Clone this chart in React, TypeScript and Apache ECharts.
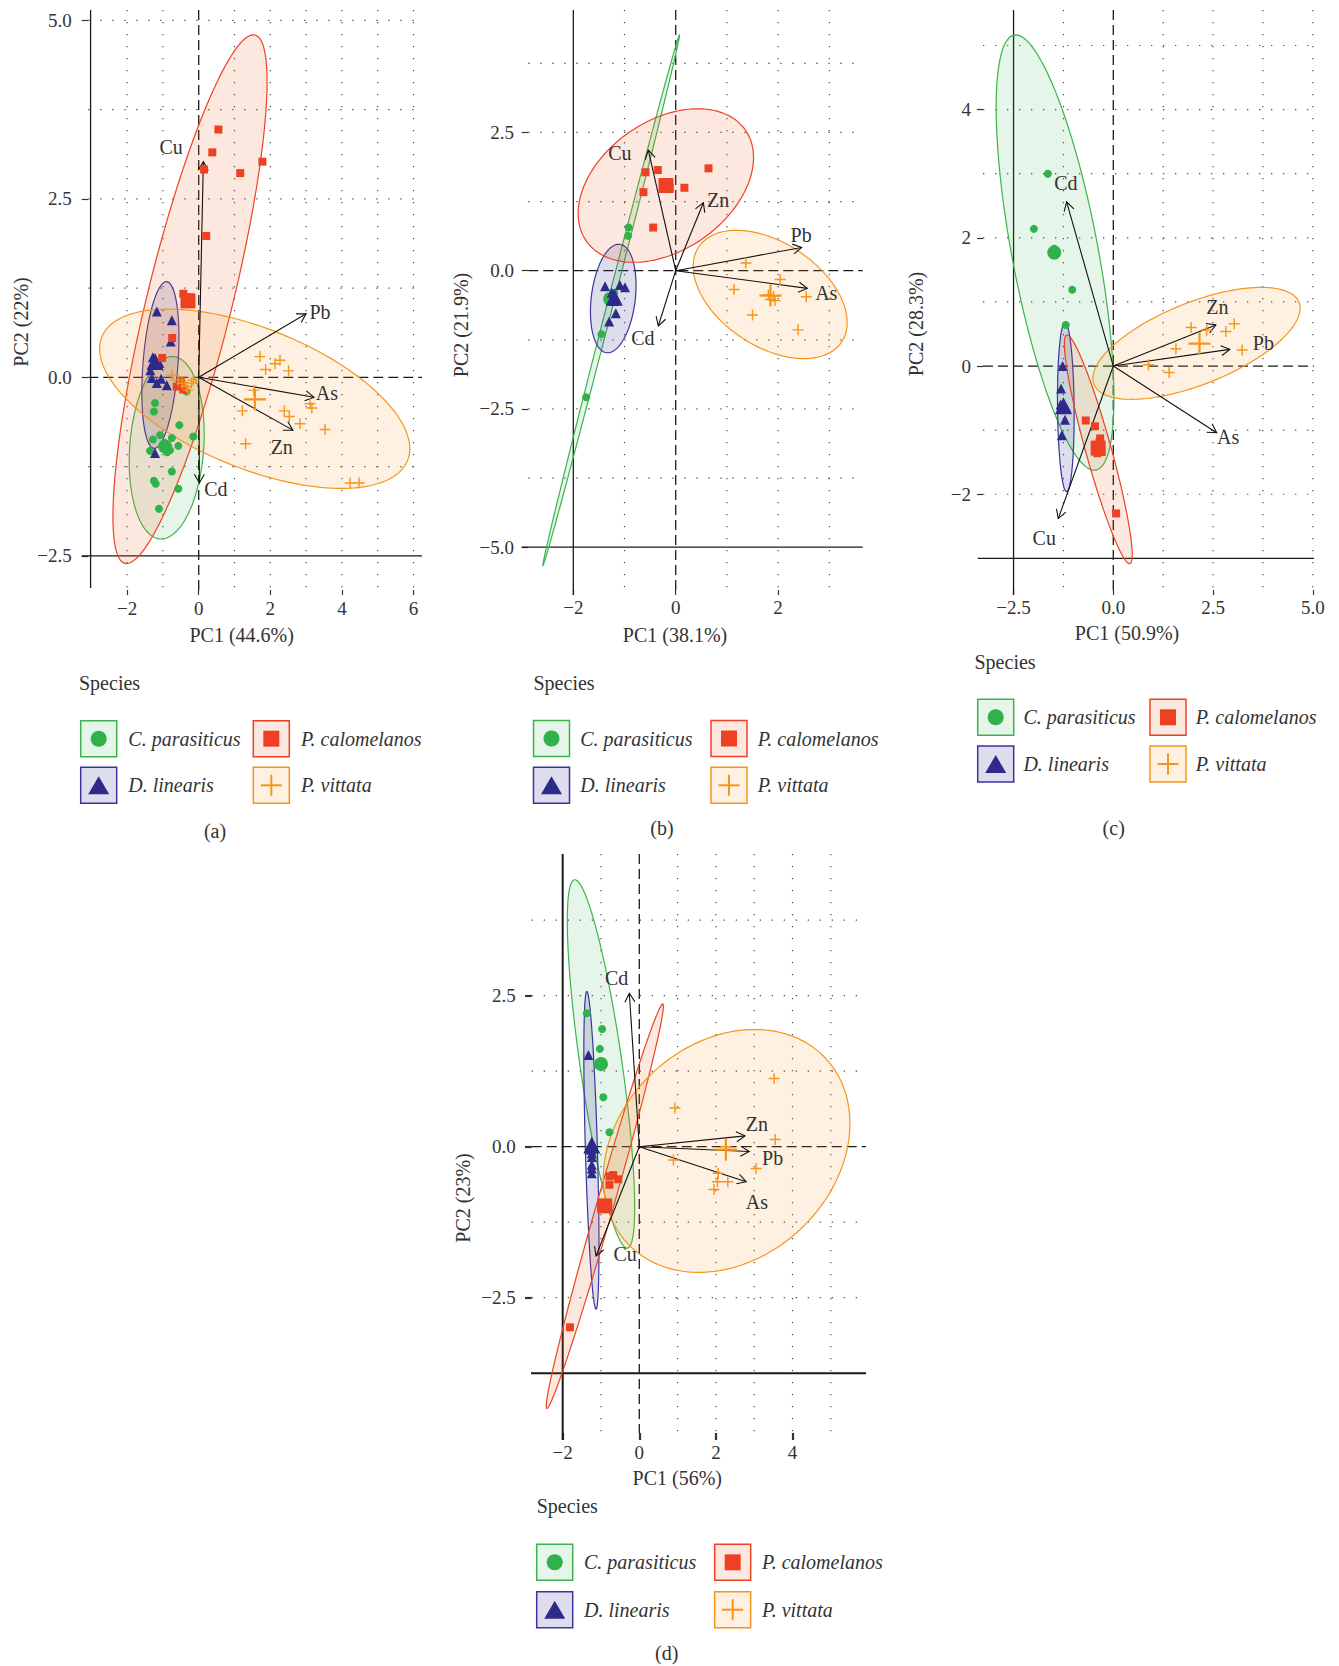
import React, { useEffect, useRef } from "react";
import * as echarts from "echarts";

const FONT = '"Liberation Serif", "DejaVu Serif", serif';
const TEXT = "#333333";

// ---------------- shared categories ----------------
const SPECIES = ["C. parasiticus", "D. linearis", "P. calomelanos", "P. vittata"];
const COLORS = ["#2fb14b", "#2e2a8c", "#ee4124", "#f7941d"];
const FILLS = ["rgba(47,170,70,0.12)", "rgba(46,42,140,0.16)", "rgba(238,95,30,0.14)", "rgba(245,150,20,0.13)"];
const EDGES = ["#3cb44b", "#3a34a0", "#ee4124", "#f7941d"];
const CROSS = "path://M4.35,0H5.65V10H4.35Z M0,4.35H10V5.65H0Z";
const CROSS_BIG = "path://M4.5,0H5.5V10H4.5Z M0,4.5H10V5.5H0Z";
const SYMBOLS = ["circle", "triangle", "rect", CROSS];
const SIZE = [8, 10, 8, 11];
const MEAN_SIZE = [14, 17, 15, 22];

// ---------------- panel (a) ----------------
const A_CPAR = [[-1.22, -0.36], [-1.25, -0.48], [-0.54, -0.67], [-1.28, -0.87], [-1.08, -0.81], [-0.75, -0.85], [-0.15, -0.83], [-0.57, -0.96], [-1.36, -1.03], [-0.8, -1.02], [-0.75, -1.32], [-1.25, -1.45], [-1.2, -1.49], [-0.57, -1.56], [-1.11, -1.84], [-0.34, -0.2], [-0.95, -0.92], [-0.88, -1.05]];
const A_DLIN = [[-1.17, 0.92], [-0.75, 0.8], [-0.78, 0.5], [-1.31, -0.01], [-1.17, -0.08], [-0.89, -0.11], [-1.22, -1.06], [-1.28, 0.28], [-1.1, 0.2], [-1.35, 0.1], [-1.05, -0.02]];
const A_PCAL = [[0.55, 3.47], [0.38, 3.15], [0.15, 2.91], [1.16, 2.86], [1.78, 3.02], [0.21, 1.98], [-0.43, 1.17], [-0.25, 1.12], [-0.74, 0.55], [-1.02, 0.27], [-0.61, -0.13], [-0.43, -0.17], [-0.5, -0.05]];
const A_PVIT = [[1.71, 0.29], [1.87, 0.11], [2.13, 0.19], [2.27, 0.24], [2.51, 0.09], [1.54, -0.18], [1.22, -0.47], [2.39, -0.47], [2.53, -0.55], [2.83, -0.65], [3.11, -0.37], [3.16, -0.43], [3.53, -0.73], [1.31, -0.93], [4.23, -1.48], [4.48, -1.48], [-0.75, 0.03], [-0.57, -0.04], [-0.46, -0.08], [-0.35, -0.13], [-0.2, -0.08], [-0.15, -0.04], [-0.3, -0.18]];
const A_MEANS = [[-0.94, -0.97], [-1.22, 0.22], [-0.3, 1.07], [1.57, -0.31]];
const A_VARS = ["Cu", "Pb", "As", "Zn", "Cd"];
const A_LOADINGS = [[0.13, 3.02], [3.0, 0.89], [3.22, -0.28], [2.63, -0.74], [0.02, -1.48]];
const A_LABELPOS = [[-0.77, 3.22], [3.39, 0.92], [3.58, -0.22], [2.32, -0.97], [0.48, -1.57]];
// ellipse: centre x, centre y, semi-axis u (dx, dy), semi-axis v (dx, dy)
const A_ELLIPSES = [[-0.894, -0.987, 0.187, 1.277, 1.03, -0.038], [-1.07, 0.172, 0.176, 1.167, 0.487, -0.018], [-0.243, 1.094, 1.816, 3.7, 1.156, -0.143], [1.564, -0.3, 4.27, -0.866, -0.732, -0.909]];
const A_XTICKS = [-2, 0, 2, 4, 6];
const A_YTICKS = [-2.5, 0, 2.5, 5];
const A_XGRID = [-2, -1, 1, 2, 3, 4, 5, 6];
const A_YGRID = [-1.25, 1.25, 2.5, 3.75, 5];
const A_TITLES = ["PC1 (44.6%)", "PC2 (22%)"];

// ---------------- panel (b) ----------------
const B_CPAR = [[-0.92, 0.78], [-0.93, 0.63], [-1.45, -1.15], [-1.75, -2.29], [-1.2, -0.4]];
const B_DLIN = [[-1.38, -0.28], [-1.09, -0.26], [-0.99, -0.3], [-1.2, -0.55], [-1.17, -0.77], [-1.3, -0.92], [-1.25, -0.4]];
const B_PCAL = [[-0.59, 1.78], [-0.35, 1.82], [0.64, 1.85], [-0.63, 1.42], [0.17, 1.5], [-0.44, 0.78], [-0.25, 1.6], [-0.12, 1.5]];
const B_PVIT = [[1.37, 0.14], [2.04, -0.16], [1.14, -0.34], [1.81, -0.44], [1.91, -0.46], [1.94, -0.54], [2.55, -0.47], [1.5, -0.8], [2.39, -1.07], [1.85, -0.52]];
const B_MEANS = [[-1.28, -0.51], [-1.2, -0.48], [-0.19, 1.54], [1.85, -0.45]];
const B_VARS = ["Cu", "Zn", "Pb", "As", "Cd"];
const B_LOADINGS = [[-0.535, 2.18], [0.54, 1.23], [2.46, 0.42], [2.57, -0.32], [-0.34, -1.0]];
const B_LABELPOS = [[-1.09, 2.13], [0.83, 1.28], [2.45, 0.65], [2.94, -0.41], [-0.64, -1.22]];
const B_ELLIPSES = [[-1.26, -0.535, 1.334, 4.797, 0.057, -0.014], [-1.22, -0.503, 0.13, 0.98, 0.426, -0.049], [-0.193, 1.54, 1.553, 1.004, 0.722, -0.958], [1.845, -0.43, 1.396, -0.859, -0.559, -0.78]];
const B_XTICKS = [-2, 0, 2];
const B_YTICKS = [-5, -2.5, 0, 2.5];
const B_XGRID = [-1, 1, 2, 3];
const B_YGRID = [-3.75, -2.5, -1.25, 1.25, 2.5, 3.75];
const B_TITLES = ["PC1 (38.1%)", "PC2 (21.9%)"];

// ---------------- panel (c) ----------------
const C_CPAR = [[-1.64, 3.0], [-1.99, 2.14], [-1.48, 1.83], [-1.03, 1.19], [-1.19, 0.64]];
const C_DLIN = [[-1.27, 0.0], [-1.31, -0.35], [-1.17, -0.66], [-1.21, -0.84], [-1.29, -1.08], [-1.32, -0.6]];
const C_PCAL = [[-0.69, -0.85], [-0.46, -0.94], [-0.33, -1.13], [-0.4, -1.36], [-0.3, -1.34], [0.07, -2.3], [-0.35, -1.2]];
const C_PVIT = [[1.95, 0.6], [2.34, 0.56], [2.82, 0.54], [3.03, 0.66], [1.57, 0.27], [3.23, 0.25], [0.88, 0.02], [1.4, -0.1]];
const C_MEANS = [[-1.48, 1.77], [-1.25, -0.62], [-0.38, -1.28], [2.16, 0.35]];
const C_VARS = ["Cd", "Zn", "Pb", "As", "Cu"];
const C_LOADINGS = [[-1.17, 2.56], [2.57, 0.64], [2.92, 0.26], [2.59, -1.04], [-1.38, -2.38]];
const C_LABELPOS = [[-1.19, 2.85], [2.61, 0.92], [3.76, 0.36], [2.88, -1.11], [-1.73, -2.68]];
const C_ELLIPSES = [[-1.46, 1.77, -1.025, 3.393, 1.062, 0.125], [-1.19, -0.64, -0.02, 1.32, 0.208, 0], [-0.376, -1.3, -0.792, 1.782, 0.309, 0.053], [2.085, 0.354, 2.569, 0.64, 0.381, -0.594]];
const C_XTICKS = [-2.5, 0, 2.5, 5];
const C_YTICKS = [-2, 0, 2, 4];
const C_XGRID = [-1.25, 1.25, 2.5, 3.75, 5];
const C_YGRID = [-2, -1, 1, 2, 3, 4, 5];
const C_TITLES = ["PC1 (50.9%)", "PC2 (28.3%)"];

// ---------------- panel (d) ----------------
const D_CPAR = [[-1.37, 2.21], [-0.97, 1.95], [-1.03, 1.62], [-0.94, 0.82], [-0.78, 0.24]];
const D_DLIN = [[-1.33, 1.52], [-1.24, -0.11], [-1.24, -0.17], [-1.24, -0.3], [-1.24, -0.36], [-1.24, -0.44], [-1.26, -0.05]];
const D_PCAL = [[-0.78, -0.49], [-0.55, -0.54], [-0.78, -0.63], [-0.68, -0.47], [-1.0, -1.0], [-0.85, -0.95], [-1.81, -2.99]];
const D_PVIT = [[3.52, 1.13], [0.93, 0.64], [3.55, 0.12], [0.89, -0.22], [3.05, -0.36], [2.04, -0.58], [2.31, -0.58], [1.95, -0.71], [2.06, -0.44], [2.26, 0.0]];
const D_MEANS = [[-1.0, 1.37], [-1.24, 0.03], [-0.9, -0.98], [2.26, -0.05]];
const D_VARS = ["Cd", "Zn", "Pb", "As", "Cu"];
const D_LOADINGS = [[-0.26, 2.54], [2.76, 0.18], [2.87, -0.08], [2.79, -0.58], [-1.13, -1.81]];
const D_LABELPOS = [[-0.59, 2.79], [3.07, 0.37], [3.48, -0.19], [3.07, -0.91], [-0.37, -1.77]];
const D_ELLIPSES = [[-1.0, 1.37, -0.692, 3.05, 0.543, 0.05], [-1.25, -0.06, -0.12, 2.63, 0.157, 0.005], [-0.9, -0.985, 1.514, 3.348, 0.213, -0.039], [2.28, -0.07, 2.585, 1.533, 1.919, -1.301]];
const D_XTICKS = [-2, 0, 2, 4];
const D_YTICKS = [-2.5, 0, 2.5];
const D_XGRID = [-1, 1, 2, 3, 4, 5];
const D_YGRID = [-2.5, -1.25, 1.25, 2.5, 3.75];
const D_TITLES = ["PC1 (56%)", "PC2 (23%)"];

const TAGS = ["(a)", "(b)", "(c)", "(d)"];

// ---------------- layout (positions / sizes only) ----------------
const LAYOUT = [
  { left: 88.3, top: 10, width: 333.7, height: 580, xmin: -3.0838, xmax: 6.2374, ymin: -2.979, ymax: 5.1443, xDec: 0, yDec: 1, yTickLen: 6.6, xTickLen: 5, yLabMargin: 16.6, xLabMargin: 9, tickW: 1.2, axisW: 1.3, vSolid: -3.02, hSolid: -2.5, vExt: [0, -2], hExt: [6.6, 0], t1: [241.7, 635], t2: [20.8, 322], tag: [215, 830.7], lg: { sx: 79, sy: 683.3, bx: 80.7, by: 720.7, c2: 253.3, r2: 767.3, tdx: 47.6 } },
  { left: 528.3, top: 10, width: 334.4, height: 580, xmin: -2.879, xmax: 3.652, ymin: -5.774, ymax: 4.714, xDec: 0, yDec: 1, yTickLen: 6.6, xTickLen: 5, yLabMargin: 14.3, xLabMargin: 8, tickW: 1.2, axisW: 1.3, vSolid: -2, hSolid: -5, vExt: [0, 5], hExt: [6.6, 0], t1: [675, 635], t2: [460.8, 325], tag: [662, 828], lg: { sx: 533.5, sy: 683, bx: 533.5, by: 720.5, c2: 711, r2: 767.3, tdx: 46.7 } },
  { left: 983, top: 10, width: 331, height: 580, xmin: -3.2657, xmax: 5.03, ymin: -3.494, ymax: 5.554, xDec: 1, yDec: 0, yTickLen: 6, xTickLen: 5, yLabMargin: 12, xLabMargin: 8, tickW: 1.2, axisW: 1.3, vSolid: -2.5, hSolid: -3, vExt: [0, 5], hExt: [5.3, 0], t1: [1127, 633], t2: [915.8, 324], tag: [1113.7, 828], lg: { sx: 974.5, sy: 662, bx: 977.7, by: 699.3, c2: 1150, r2: 746, tdx: 45.7 } },
  { left: 531.7, top: 854, width: 334.3, height: 579, xmin: -2.809, xmax: 5.919, ymin: -4.74, ymax: 4.846, xDec: 0, yDec: 1, yTickLen: 6.7, xTickLen: 7, yLabMargin: 16, xLabMargin: 10, tickW: 2.2, axisW: 2, vSolid: -2, hSolid: -3.75, vExt: [0, 7], hExt: [0.7, 0], t1: [677.3, 1478.3], t2: [463.3, 1198], tag: [666.7, 1653.3], lg: { sx: 536.7, sy: 1506, bx: 536.7, by: 1544.3, c2: 714.7, r2: 1591.7, tdx: 47.3 } },
];

const PANELS = [
  { pts: [A_CPAR, A_DLIN, A_PCAL, A_PVIT], means: A_MEANS, vars: A_VARS, loads: A_LOADINGS, labs: A_LABELPOS, ells: A_ELLIPSES, xt: A_XTICKS, yt: A_YTICKS, xg: A_XGRID, yg: A_YGRID, titles: A_TITLES },
  { pts: [B_CPAR, B_DLIN, B_PCAL, B_PVIT], means: B_MEANS, vars: B_VARS, loads: B_LOADINGS, labs: B_LABELPOS, ells: B_ELLIPSES, xt: B_XTICKS, yt: B_YTICKS, xg: B_XGRID, yg: B_YGRID, titles: B_TITLES },
  { pts: [C_CPAR, C_DLIN, C_PCAL, C_PVIT], means: C_MEANS, vars: C_VARS, loads: C_LOADINGS, labs: C_LABELPOS, ells: C_ELLIPSES, xt: C_XTICKS, yt: C_YTICKS, xg: C_XGRID, yg: C_YGRID, titles: C_TITLES },
  { pts: [D_CPAR, D_DLIN, D_PCAL, D_PVIT], means: D_MEANS, vars: D_VARS, loads: D_LOADINGS, labs: D_LABELPOS, ells: D_ELLIPSES, xt: D_XTICKS, yt: D_YTICKS, xg: D_XGRID, yg: D_YGRID, titles: D_TITLES },
];

const fmt = (v: number, d: number) => {
  const s = Math.abs(v).toFixed(d);
  return v < 0 ? "\u2212" + s : s;
};

const DOT = { stroke: "#4a4a4a", lineWidth: 1.2, lineDash: [1.3, 10.7] };
const DASH = { stroke: "#1a1a1a", lineWidth: 1.3, lineDash: [10, 5] };

function vLines(gi: number, values: number[], style: any, ext: number[] = [0, 0]) {
  return {
    type: "custom", xAxisIndex: gi, yAxisIndex: gi, silent: true,
    data: values.map((v) => [v, 0]),
    renderItem: (params: any, api: any) => {
      const cs = params.coordSys;
      const x = api.coord([api.value(0), 0])[0];
      return { type: "line", shape: { x1: x, y1: cs.y - ext[0], x2: x, y2: cs.y + cs.height + ext[1] }, style };
    },
  };
}

function hLines(gi: number, values: number[], style: any, ext: number[] = [0, 0]) {
  return {
    type: "custom", xAxisIndex: gi, yAxisIndex: gi, silent: true,
    data: values.map((v) => [0, v]),
    renderItem: (params: any, api: any) => {
      const cs = params.coordSys;
      const y = api.coord([0, api.value(1)])[1];
      return { type: "line", shape: { x1: cs.x - ext[0], y1: y, x2: cs.x + cs.width + ext[1], y2: y }, style };
    },
  };
}

function ellipseSeries(gi: number, ells: number[][]) {
  return {
    type: "custom", xAxisIndex: gi, yAxisIndex: gi, silent: true,
    data: ells,
    renderItem: (params: any, api: any) => {
      const k = params.dataIndex;
      const cx = api.value(0), cy = api.value(1), ux = api.value(2), uy = api.value(3), vx = api.value(4), vy = api.value(5);
      const pts: number[][] = [];
      const N = 144;
      for (let i = 0; i < N; i++) {
        const t = (i / N) * Math.PI * 2;
        pts.push(api.coord([cx + ux * Math.cos(t) + vx * Math.sin(t), cy + uy * Math.cos(t) + vy * Math.sin(t)]));
      }
      return { type: "polygon", shape: { points: pts }, style: { fill: FILLS[k], stroke: EDGES[k], lineWidth: 1.2 } };
    },
  };
}

function scatterSeries(gi: number, k: number, pts: number[][], mean: number[]) {
  return {
    type: "scatter", xAxisIndex: gi, yAxisIndex: gi, silent: true,
    symbol: SYMBOLS[k], symbolSize: SIZE[k],
    itemStyle: { color: COLORS[k], opacity: 1 },
    data: [
      ...pts.map((p) => ({ value: p })),
      { value: mean, symbolSize: MEAN_SIZE[k], symbol: k === 3 ? CROSS_BIG : SYMBOLS[k] },
    ],
  };
}

function arrowSeries(gi: number, loads: number[][]) {
  return {
    type: "custom", xAxisIndex: gi, yAxisIndex: gi, silent: true,
    data: loads,
    renderItem: (params: any, api: any) => {
      const o = api.coord([0, 0]);
      const t = api.coord([api.value(0), api.value(1)]);
      const ang = Math.atan2(t[1] - o[1], t[0] - o[0]);
      const L = 10, A = Math.PI / 6;
      const p1 = [t[0] - L * Math.cos(ang - A), t[1] - L * Math.sin(ang - A)];
      const p2 = [t[0] - L * Math.cos(ang + A), t[1] - L * Math.sin(ang + A)];
      return {
        type: "group",
        children: [
          { type: "line", shape: { x1: o[0], y1: o[1], x2: t[0], y2: t[1] }, style: { stroke: "#111", lineWidth: 1.1 } },
          { type: "polyline", shape: { points: [p1, t, p2] }, style: { stroke: "#111", lineWidth: 1.1, fill: "none" } },
        ],
      };
    },
  };
}

function labelSeries(gi: number, pos: number[][], names: string[]) {
  return {
    type: "custom", xAxisIndex: gi, yAxisIndex: gi, silent: true,
    data: pos,
    renderItem: (params: any, api: any) => {
      const p = api.coord([api.value(0), api.value(1)]);
      return {
        type: "text", x: p[0], y: p[1],
        style: { text: names[params.dataIndex], fill: TEXT, font: `20px ${FONT}`, align: "center", verticalAlign: "middle" },
      };
    },
  };
}

function legendElements(lg: any) {
  const els: any[] = [];
  els.push({ type: "text", x: lg.sx, y: lg.sy, style: { text: "Species", fill: TEXT, font: `20px ${FONT}`, align: "left", verticalAlign: "middle" } });
  const cells = [[0, lg.bx, lg.by], [2, lg.c2, lg.by], [1, lg.bx, lg.r2], [3, lg.c2, lg.r2]];
  for (const [k, x, y] of cells) {
    els.push({ type: "rect", shape: { x, y, width: 36, height: 36 }, style: { fill: FILLS[k], stroke: EDGES[k], lineWidth: 1.5 } });
    const cx = x + 18, cy = y + 18;
    if (k === 0) els.push({ type: "circle", shape: { cx, cy, r: 8 }, style: { fill: COLORS[k] } });
    if (k === 1) els.push({ type: "polygon", shape: { points: [[cx, cy - 9], [cx + 10.5, cy + 9], [cx - 10.5, cy + 9]] }, style: { fill: COLORS[k] } });
    if (k === 2) els.push({ type: "rect", shape: { x: cx - 8, y: cy - 8, width: 16, height: 16 }, style: { fill: COLORS[k] } });
    if (k === 3) {
      els.push({ type: "line", shape: { x1: cx - 10.5, y1: cy, x2: cx + 10.5, y2: cy }, style: { stroke: COLORS[k], lineWidth: 2 } });
      els.push({ type: "line", shape: { x1: cx, y1: cy - 10.5, x2: cx, y2: cy + 10.5 }, style: { stroke: COLORS[k], lineWidth: 2 } });
    }
    els.push({ type: "text", x: x + lg.tdx, y: cy, style: { text: SPECIES[k], fill: TEXT, font: `italic 20px ${FONT}`, align: "left", verticalAlign: "middle" } });
  }
  return els;
}

function buildOption() {
  const grid: any[] = [];
  const xAxis: any[] = [];
  const yAxis: any[] = [];
  const series: any[] = [];
  const graphics: any[] = [];

  PANELS.forEach((P, gi) => {
    const Lo = LAYOUT[gi];
    grid.push({ left: Lo.left, top: Lo.top, width: Lo.width, height: Lo.height, containLabel: false, outerBoundsMode: "none" });
    xAxis.push({
      type: "value", gridIndex: gi, min: Lo.xmin, max: Lo.xmax, position: "bottom",
      axisLine: { show: false, onZero: false },
      splitLine: { show: false },
      axisTick: { show: true, customValues: P.xt, length: Lo.xTickLen, lineStyle: { color: "#333", width: Lo.tickW } },
      axisLabel: { show: true, customValues: P.xt, formatter: (v: number) => fmt(v, Lo.xDec), margin: Lo.xLabMargin, color: TEXT, fontFamily: FONT, fontSize: 19 },
    });
    yAxis.push({
      type: "value", gridIndex: gi, min: Lo.ymin, max: Lo.ymax, position: "left",
      axisLine: { show: false, onZero: false },
      splitLine: { show: false },
      axisTick: { show: true, customValues: P.yt, length: Lo.yTickLen, lineStyle: { color: "#333", width: Lo.tickW } },
      axisLabel: { show: true, customValues: P.yt, formatter: (v: number) => fmt(v, Lo.yDec), margin: Lo.yLabMargin, color: TEXT, fontFamily: FONT, fontSize: 19 },
    });

    const SOLID = { stroke: "#1a1a1a", lineWidth: Lo.axisW };
    series.push(vLines(gi, P.xg, DOT));
    series.push(hLines(gi, P.yg, DOT));
    series.push(vLines(gi, [0], DASH));
    series.push(hLines(gi, [0], DASH));
    series.push(vLines(gi, [Lo.vSolid], SOLID, Lo.vExt));
    series.push(hLines(gi, [Lo.hSolid], SOLID, Lo.hExt));
    series.push(ellipseSeries(gi, P.ells));
    for (let k = 0; k < 4; k++) series.push(scatterSeries(gi, k, P.pts[k], P.means[k]));
    series.push(arrowSeries(gi, P.loads));
    series.push(labelSeries(gi, P.labs, P.vars));

    graphics.push({ type: "text", x: Lo.t1[0], y: Lo.t1[1], style: { text: P.titles[0], fill: TEXT, font: `20px ${FONT}`, align: "center", verticalAlign: "middle" } });
    graphics.push({ type: "text", x: Lo.t2[0], y: Lo.t2[1], rotation: Math.PI / 2, style: { text: P.titles[1], fill: TEXT, font: `20px ${FONT}`, align: "center", verticalAlign: "middle" } });
    graphics.push({ type: "text", x: Lo.tag[0], y: Lo.tag[1], style: { text: TAGS[gi], fill: TEXT, font: `20px ${FONT}`, align: "center", verticalAlign: "middle" } });
    graphics.push(...legendElements(Lo.lg));
  });

  return {
    animation: false,
    backgroundColor: "#ffffff",
    grid, xAxis, yAxis, series,
    graphic: { elements: graphics },
  };
}

export default function App() {
  const ref = useRef<HTMLDivElement>(null);
  useEffect(() => {
    if (!ref.current) return;
    const chart = echarts.init(ref.current, null, { renderer: "svg" });
    chart.setOption(buildOption() as any);
    return () => chart.dispose();
  }, []);
  return <div ref={ref} style={{ position: "absolute", left: 0, top: 0, width: 1339, height: 1666, background: "#fff" }} />;
}
